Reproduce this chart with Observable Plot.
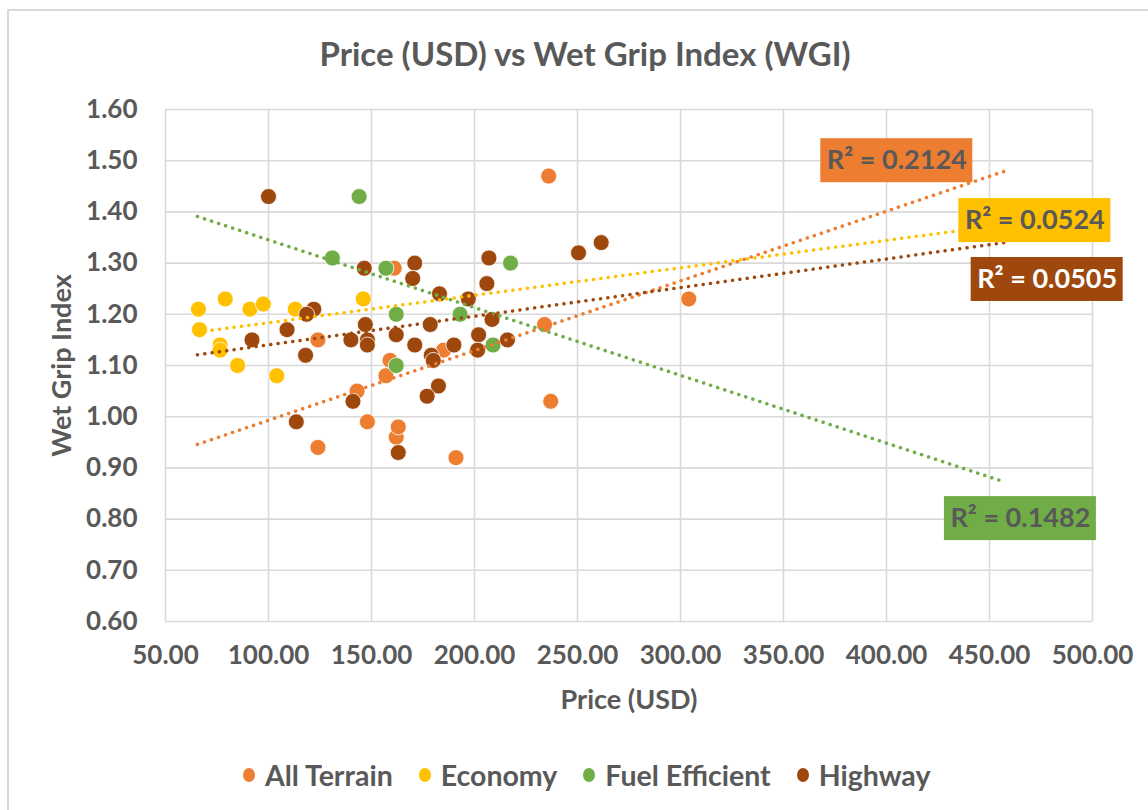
<!DOCTYPE html>
<html>
<head>
<meta charset="utf-8">
<script src="https://cdn.jsdelivr.net/npm/d3@7"></script>
<script src="https://cdn.jsdelivr.net/npm/@observablehq/plot@0.6"></script>
<style>
  html, body { margin: 0; padding: 0; background: #fff; }
  #wrap { position: relative; width: 1148px; height: 810px; overflow: hidden; font-family: Lato, "Open Sans", sans-serif; color: #595959; }
  #frame { position: absolute; left: 7px; top: 9px; width: 1300px; height: 1000px; border: 2px solid #d9d9d9; box-sizing: border-box; }
  #title { position: absolute; left: 0; width: 1170px; top: 33px; text-align: center; font-size: 33px; font-weight: 700; }
  #chart { position: absolute; left: 0; top: 0; }
  #legend { position: absolute; top: 758px; left: 243px; display: flex; gap: 26px; font-size: 28.5px; font-weight: 700; }
  #legend span.item { display: flex; align-items: center; gap: 10px; }
  #legend span.sw { width: 12px; height: 14px; border-radius: 50%; display: inline-block; }
</style>
</head>
<body>
<div id="wrap">
  <div id="frame"></div>
  <div id="chart"></div>
  <div id="title"></div>
  <div id="legend"></div>
</div>
<script>
// ---- data ----
const seriesNames = ["All Terrain", "Economy", "Fuel Efficient", "Highway"];
const seriesColors = ["#ED7D31", "#FFC000", "#70AD47", "#9E480E"];

const allTerrainPrice = [236, 304, 234, 237, 161, 159, 157, 143, 148, 124, 162, 163, 191, 185, 124];
const allTerrainWGI   = [1.47, 1.23, 1.18, 1.03, 1.29, 1.11, 1.08, 1.05, 0.99, 0.94, 0.96, 0.98, 0.92, 1.13, 1.15];

const economyPrice = [66, 66.5, 79, 76.5, 76.5, 85, 91, 97.5, 104, 113, 146];
const economyWGI   = [1.21, 1.17, 1.23, 1.14, 1.13, 1.10, 1.21, 1.22, 1.08, 1.21, 1.23];

const fuelPrice = [144, 131, 157, 162, 193, 209, 162, 217.5];
const fuelWGI   = [1.43, 1.31, 1.29, 1.20, 1.20, 1.14, 1.10, 1.30];

const highwayPrice = [100, 146.5, 171, 170, 207, 206, 250.5, 261.5, 183, 197, 208.5, 147, 178.5, 162, 140, 148, 148, 202, 216, 201.5, 171, 190, 179, 180, 141, 182.5, 177, 163, 122, 118.5, 109, 92, 118, 113.5];
const highwayWGI   = [1.43, 1.29, 1.30, 1.27, 1.31, 1.26, 1.32, 1.34, 1.24, 1.23, 1.19, 1.18, 1.18, 1.16, 1.15, 1.15, 1.14, 1.16, 1.15, 1.13, 1.14, 1.14, 1.12, 1.11, 1.03, 1.06, 1.04, 0.93, 1.21, 1.20, 1.17, 1.15, 1.12, 0.99];

// linear trendlines (Excel, forecast forward): start/end price and WGI
const trendX0 = [65.5, 65.5, 65.5, 65.5];
const trendX1 = [457, 457, 457, 457];
const trendY0 = [0.946, 1.165, 1.391, 1.121];
const trendY1 = [1.479, 1.375, 0.873, 1.340];
const rSquared = ["R² = 0.2124", "R² = 0.0524", "R² = 0.1482", "R² = 0.0505"];
// label anchor (data units)
const labelX = [405, 472, 465, 478];
const labelY = [1.50, 1.383, 0.801, 1.268];
const labelTextColors = ["#595959", "#595959", "#595959", "#ffffff"];

const xTicks = [50, 100, 150, 200, 250, 300, 350, 400, 450, 500];
const yTicks = [0.6, 0.7, 0.8, 0.9, 1.0, 1.1, 1.2, 1.3, 1.4, 1.5, 1.6];

// ---- build tables ----
const seriesPrices = [allTerrainPrice, economyPrice, fuelPrice, highwayPrice];
const seriesWGI = [allTerrainWGI, economyWGI, fuelWGI, highwayWGI];
const points = [];
seriesNames.forEach((s, i) => seriesPrices[i].forEach((p, j) => points.push({series: s, price: p, wgi: seriesWGI[i][j]})));
const trends = seriesNames.map((s, i) => ({series: s, x0: trendX0[i], x1: trendX1[i], y0: trendY0[i], y1: trendY1[i]}));
const labels = seriesNames.map((s, i) => ({series: s, x: labelX[i], y: labelY[i], text: rSquared[i], tc: labelTextColors[i]}));

const fmt = d3.format(".2f");
const font = "Lato, 'Open Sans', sans-serif";

const plot = Plot.plot({
  width: 1148,
  height: 810,
  marginLeft: 165,
  marginRight: 56,
  marginTop: 109,
  marginBottom: 189,
  style: {fontFamily: font, fontSize: "26px", fontWeight: 700, color: "#595959", background: "transparent", overflow: "visible"},
  x: {domain: [50, 500]},
  y: {domain: [0.6, 1.6]},
  color: {domain: seriesNames, range: seriesColors},
  marks: [
    Plot.gridX(xTicks, {stroke: "#d9d9d9", strokeOpacity: 1, strokeWidth: 1.6}),
    Plot.gridY(yTicks, {stroke: "#d9d9d9", strokeOpacity: 1, strokeWidth: 1.6}),
    Plot.axisX(xTicks, {tickSize: 0, tickPadding: 24, tickFormat: fmt, label: null}),
    Plot.axisY(yTicks, {tickSize: 0, tickPadding: 28, tickFormat: fmt, label: null}),
    Plot.text(["Wet Grip Index"], {frameAnchor: "left", textAnchor: "middle", rotate: -90, dx: -103, text: d => d, fontSize: 27}),
    Plot.text(["Price (USD)"], {frameAnchor: "bottom", dy: 87, text: d => d, fontSize: 27}),
    Plot.dot(points, {x: "price", y: "wgi", fill: "series", r: 8, stroke: "white", strokeWidth: 0.8}),
    Plot.link(trends, {x1: "x0", y1: "y0", x2: "x1", y2: "y1", stroke: "series", strokeWidth: 3.5, strokeDasharray: "0.1 7.3", strokeLinecap: "round"}),
    Plot.rect(labels, {x1: "x", x2: "x", y1: "y", y2: "y", fill: "series", insetLeft: -76, insetRight: -76, insetTop: -22, insetBottom: -22}),
    Plot.text(labels, {x: "x", y: "y", text: "text", fill: "tc", fontSize: 27})
  ]
});
document.getElementById("chart").appendChild(plot);

document.getElementById("title").textContent = "Price (USD) vs Wet Grip Index (WGI)";
const legend = document.getElementById("legend");
seriesNames.forEach((s, i) => {
  const item = document.createElement("span");
  item.className = "item";
  const sw = document.createElement("span");
  sw.className = "sw";
  sw.style.background = seriesColors[i];
  const t = document.createElement("span");
  t.textContent = s;
  item.appendChild(sw); item.appendChild(t);
  legend.appendChild(item);
});
</script>
</body>
</html>
